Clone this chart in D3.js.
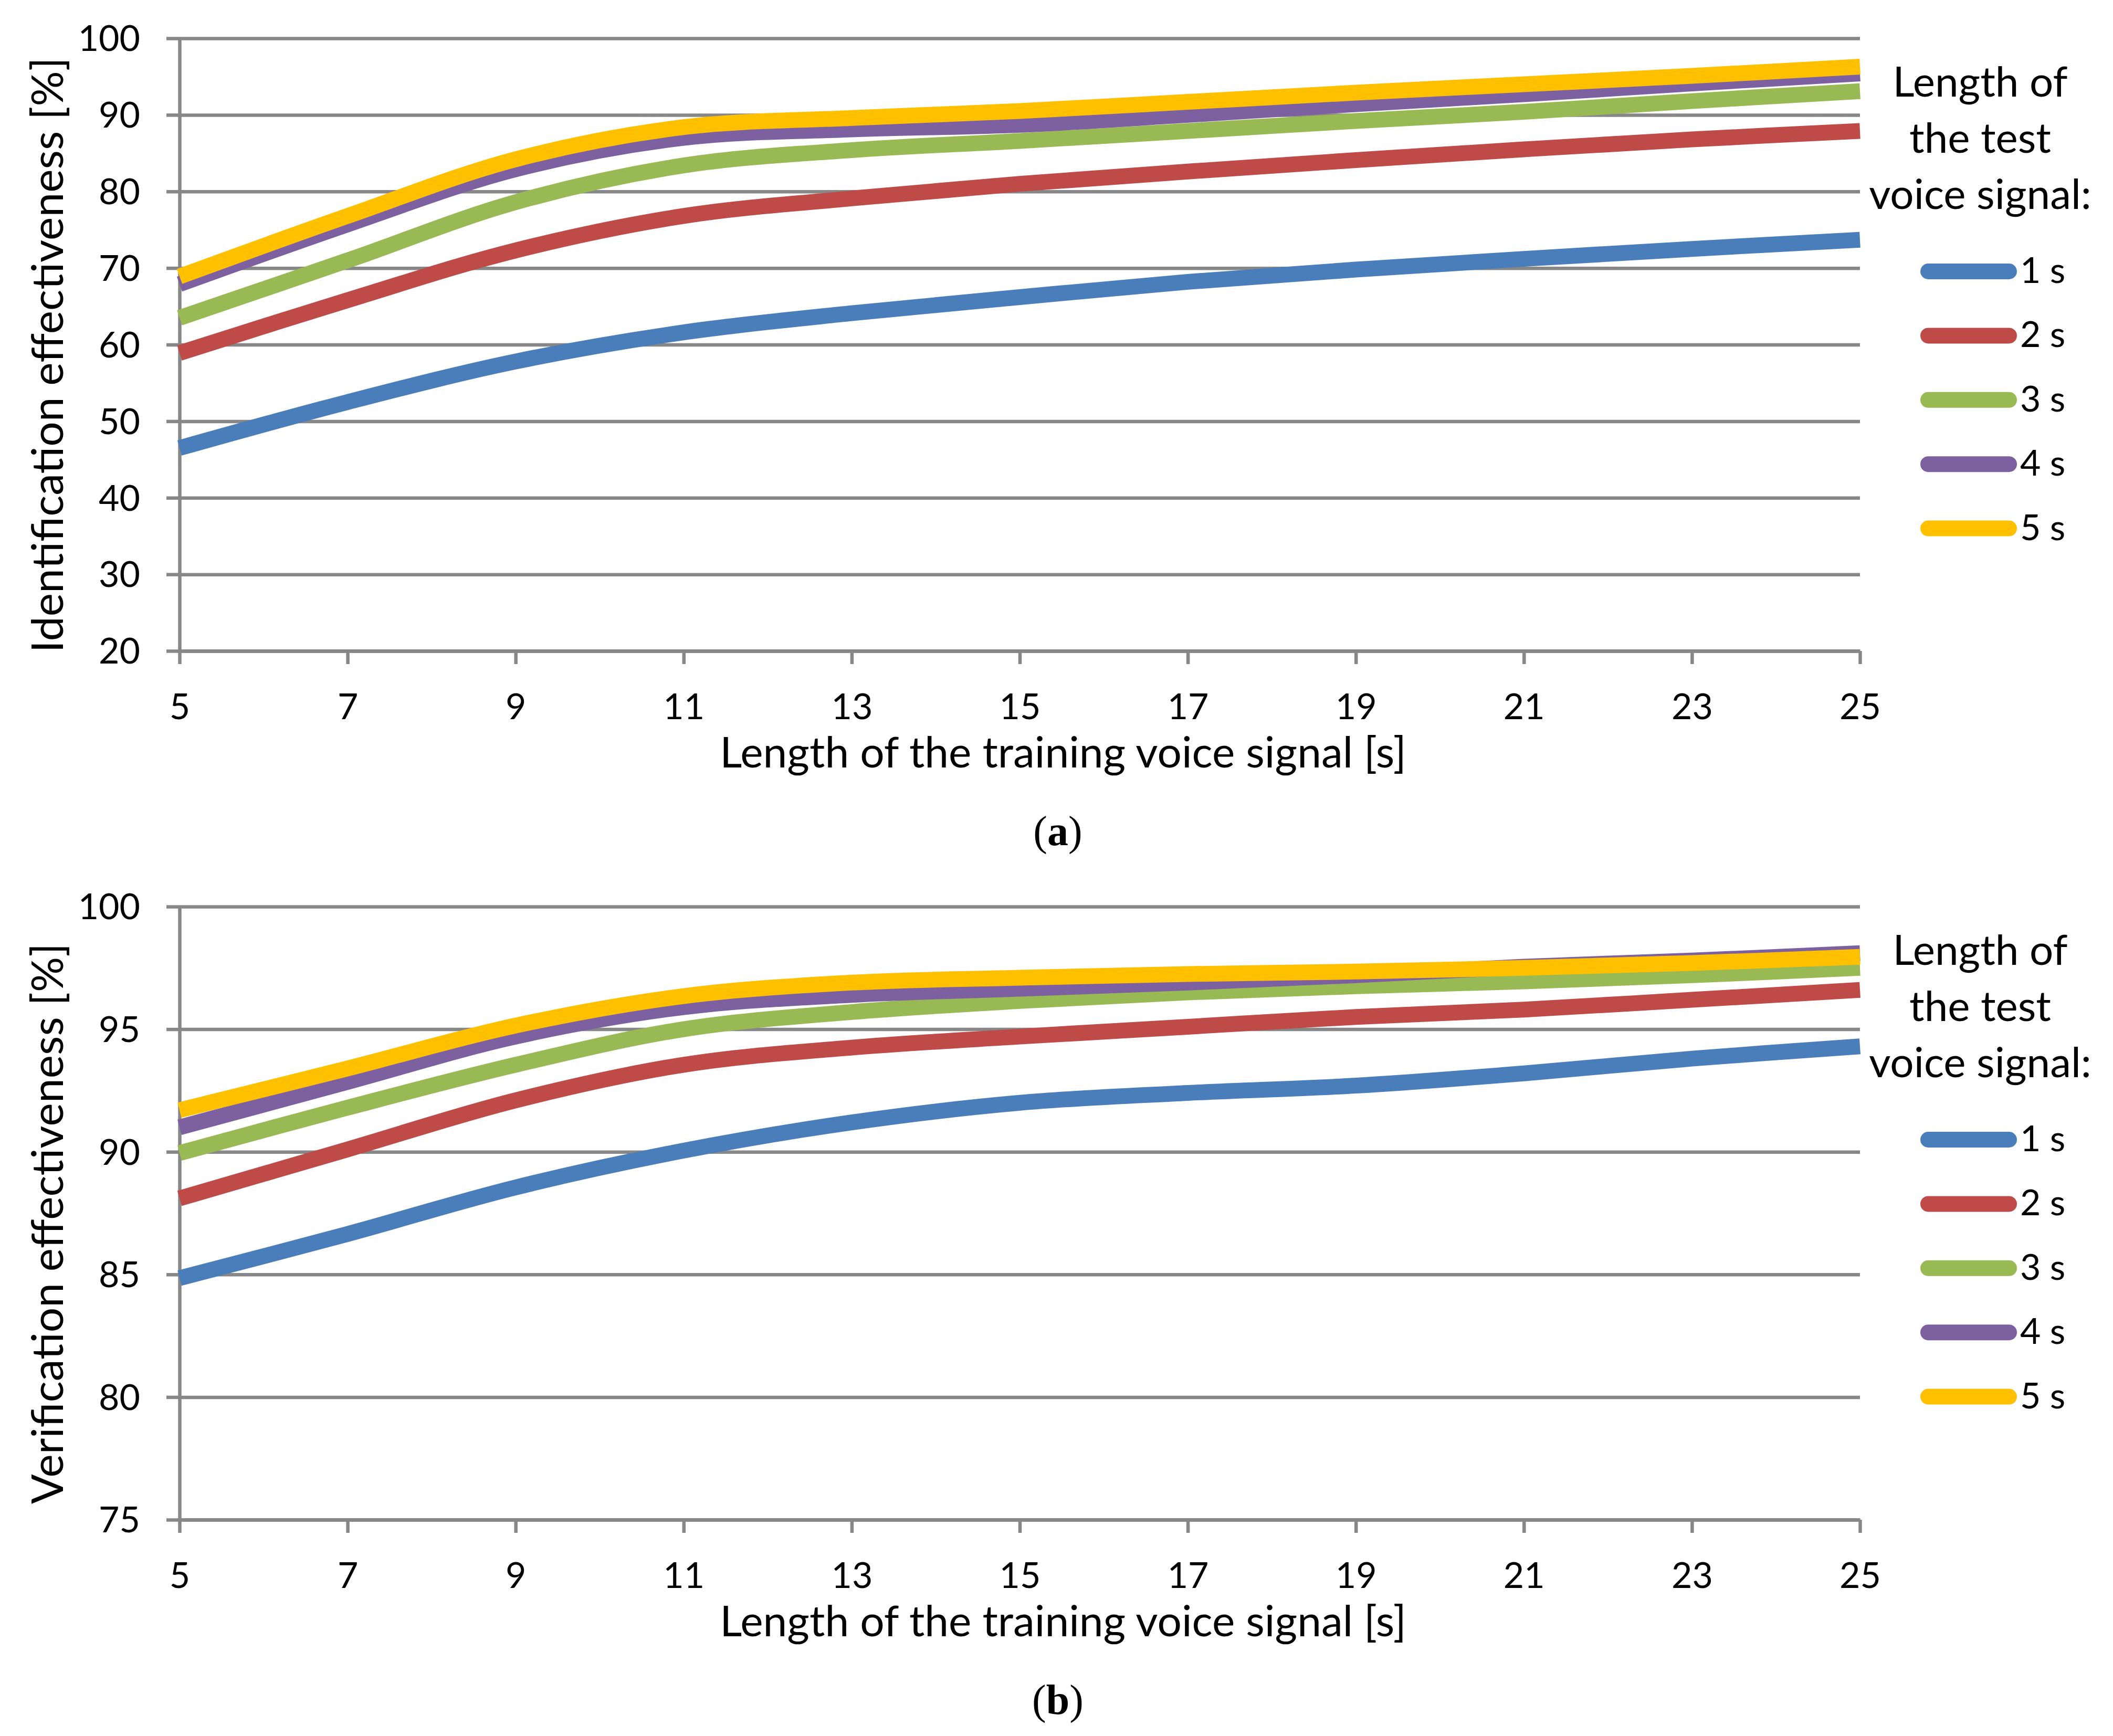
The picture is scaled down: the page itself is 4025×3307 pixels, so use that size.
<!DOCTYPE html>
<html>
<head>
<meta charset="utf-8">
<script src="https://cdn.jsdelivr.net/npm/d3@7"></script>
<style>
    body { margin: 0; background: #fff; }
    svg text { font-family: Lato, "Open Sans", sans-serif; fill: #000; }
</style>
</head>
<body>
<svg id="chart" width="4025" height="3307"></svg>
<script>
// training signal length [s] on the x axis
const trainingLengths = [5, 7, 9, 11, 13, 15, 17, 19, 21, 23, 25];
const testLengths = ['1 s', '2 s', '3 s', '4 s', '5 s'];
const seriesColors = ['#4a7ebb', '#be4b48', '#98b954', '#7d60a0', '#ffc000'];

// (a) identification effectiveness [%]
const ident1s = [46.5, 52.5, 57.8, 61.6, 64.1, 66.2, 68.2, 69.8, 71.2, 72.5, 73.7];
const ident2s = [58.9, 65.8, 72.3, 76.8, 79.1, 81.0, 82.6, 84.1, 85.5, 86.8, 87.9];
const ident3s = [63.5, 71.0, 78.6, 83.4, 85.4, 86.6, 87.9, 89.2, 90.4, 91.8, 93.1];
const ident4s = [67.9, 75.7, 82.9, 87.0, 88.1, 88.7, 90.0, 91.4, 92.7, 94.1, 95.4];
const ident5s = [68.9, 76.8, 84.2, 88.4, 89.6, 90.5, 91.7, 92.9, 94.0, 95.1, 96.3];

// (b) verification effectiveness [%]
const verif1s = [84.85, 86.65, 88.55, 90.05, 91.2, 92.0, 92.4, 92.7, 93.2, 93.8, 94.3];
const verif2s = [88.1, 90.1, 92.1, 93.55, 94.25, 94.7, 95.1, 95.5, 95.8, 96.2, 96.6];
const verif3s = [89.95, 91.8, 93.55, 95.0, 95.7, 96.15, 96.5, 96.75, 96.95, 97.2, 97.5];
const verif4s = [91.0, 92.85, 94.7, 95.9, 96.4, 96.65, 96.9, 97.2, 97.55, 97.8, 98.1];
const verif5s = [91.7, 93.4, 95.15, 96.35, 96.9, 97.1, 97.25, 97.35, 97.5, 97.7, 97.95];

const xTickValues = [5, 7, 9, 11, 13, 15, 17, 19, 21, 23, 25];
const identTicks = [20, 30, 40, 50, 60, 70, 80, 90, 100];
const verifTicks = [75, 80, 85, 90, 95, 100];

const xTitle = 'Length of the training voice signal [s]';
const legendTitle = ['Length of', 'the test', 'voice signal:'];

const GRID = '#878787';
const left = 342, right = 3543;

(function init() {
    const svg = d3.select('#chart');
    drawPanel(svg, {
        top: 73, bottom: 1240, domain: [20, 100], ticks: identTicks,
        yTitle: 'Identification effectiveness [%]', tag: 'a',
        series: [ident1s, ident2s, ident3s, ident4s, ident5s]
    });
    drawPanel(svg, {
        top: 1727, bottom: 2895, domain: [75, 100], ticks: verifTicks,
        yTitle: 'Verification effectiveness [%]', tag: 'b',
        series: [verif1s, verif2s, verif3s, verif4s, verif5s]
    });
})();

function drawPanel(svg, p) {
    const x = d3.scaleLinear().domain([5, 25]).range([left, right]);
    const y = d3.scaleLinear().domain(p.domain).range([p.bottom, p.top]);
    const g = svg.append('g');

    // horizontal gridlines
    g.append('g')
        .attr('transform', `translate(${left},0)`)
        .call(d3.axisLeft(y).tickValues(p.ticks).tickSize(-(right - left)).tickFormat(''))
        .call(a => a.select('.domain').remove())
        .call(a => a.selectAll('line').attr('stroke', GRID).attr('stroke-width', 6.5));

    // y axis with outside ticks
    const yAxis = g.append('g')
        .attr('transform', `translate(${left},0)`)
        .call(d3.axisLeft(y).tickValues(p.ticks).tickSize(25).tickSizeOuter(0).tickPadding(50));
    yAxis.select('.domain').attr('stroke', GRID).attr('stroke-width', 6.5);
    yAxis.selectAll('line').attr('stroke', GRID).attr('stroke-width', 6.5);
    yAxis.selectAll('text').attr('font-size', 68).attr('font-family', 'Lato').attr('fill', '#000').attr('dy', '0.35em');

    // x axis
    const xAxis = g.append('g')
        .attr('transform', `translate(0,${p.bottom})`)
        .call(d3.axisBottom(x).tickValues(xTickValues).tickSize(25).tickSizeOuter(0));
    xAxis.select('.domain').attr('stroke', GRID).attr('stroke-width', 6.5);
    xAxis.selectAll('line').attr('stroke', GRID).attr('stroke-width', 6.5);
    xAxis.selectAll('text').attr('font-size', 68).attr('font-family', 'Lato').attr('fill', '#000')
        .attr('y', 130).attr('dy', null);

    // series lines
    const line = d3.line()
        .x((d, i) => x(trainingLengths[i]))
        .y(d => y(d))
        .curve(d3.curveCatmullRom.alpha(0.5));
    g.append('g').selectAll('path')
        .data(p.series)
        .join('path')
        .attr('d', line)
        .attr('fill', 'none')
        .attr('stroke', (d, i) => seriesColors[i])
        .attr('stroke-width', 30)
        .attr('stroke-linejoin', 'round');

    // axis titles
    g.append('text')
        .attr('x', 2025).attr('y', p.bottom + 222)
        .attr('text-anchor', 'middle').attr('font-size', 82)
        .text(xTitle);
    g.append('text')
        .attr('transform', `translate(120,${(p.top + p.bottom) / 2 + 20}) rotate(-90)`)
        .attr('text-anchor', 'middle').attr('font-size', 84)
        .text(p.yTitle);

    // legend
    const lg = g.append('g');
    lg.selectAll('text.title')
        .data(legendTitle)
        .join('text')
        .attr('class', 'title')
        .attr('x', 3772).attr('y', (d, i) => p.top + 111 + i * 107)
        .attr('text-anchor', 'middle').attr('font-size', 80)
        .text(d => d);
    const item = lg.selectAll('g.item')
        .data(testLengths)
        .join('g')
        .attr('class', 'item')
        .attr('transform', (d, i) => `translate(0,${p.top + 444 + i * 122.4})`);
    item.append('line')
        .attr('x1', 3673).attr('x2', 3827)
        .attr('stroke', (d, i) => seriesColors[i])
        .attr('stroke-width', 30).attr('stroke-linecap', 'round');
    item.append('text')
        .attr('x', 3848).attr('y', 22).attr('font-size', 68)
        .text(d => d);

    // panel tag
    const tag = g.append('text')
        .attr('x', 2015).attr('y', p.bottom + 370)
        .attr('text-anchor', 'middle')
        .style('font-family', '"Liberation Serif", "DejaVu Serif", serif')
        .attr('font-size', 80);
    tag.append('tspan').text('(');
    tag.append('tspan').attr('font-weight', 'bold').text(p.tag);
    tag.append('tspan').text(')');
}
</script>
</body>
</html>
